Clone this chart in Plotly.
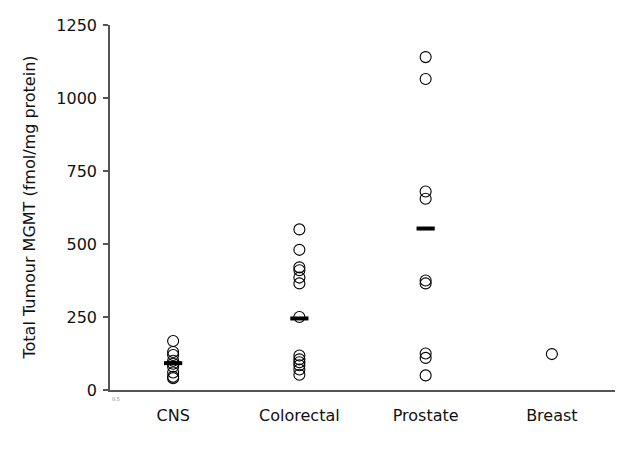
import plotly.graph_objects as go

categories = ["CNS", "Colorectal", "Prostate", "Breast"]
cns = [168, 130, 120, 100, 90, 80, 60, 45, 40]
colorectal = [550, 480, 420, 410, 385, 365, 250, 118, 105, 95, 85, 70, 52]
prostate = [1140, 1065, 680, 655, 375, 365, 125, 110, 50]
breast = [123]
bar_values = [92, 245, 553]
y_ticks = [0, 250, 500, 750, 1000, 1250]
y_title = "Total Tumour MGMT (fmol/mg protein)"

series = [cns, colorectal, prostate, breast]
xpos = [1, 2, 3, 4]

fig = go.Figure()
xs, ys = [], []
for x, vals in zip(xpos, series):
    xs += [x] * len(vals)
    ys += vals
fig.add_trace(go.Scatter(
    x=xs, y=ys, mode="markers",
    marker=dict(symbol="circle-open", size=11, color="black", line=dict(width=1.1, color="black")),
    showlegend=False, hoverinfo="y"))
fig.add_trace(go.Scatter(
    x=xpos[:3], y=bar_values, mode="markers",
    marker=dict(symbol="line-ew", size=13, color="black", line=dict(width=4, color="black")),
    showlegend=False, hoverinfo="y"))

font = "DejaVu Sans, Verdana, sans-serif"
L, R, T, B, W, H = 110, 15, 25, 59, 630, 449
fig.update_layout(
    width=W, height=H,
    margin=dict(l=L, r=R, t=T, b=B),
    plot_bgcolor="white", paper_bgcolor="white",
    font=dict(family=font, size=16, color="#111"),
    xaxis=dict(range=[0.5, 4.5], tickvals=xpos, ticktext=categories,
               showgrid=False, zeroline=False, showline=True, linecolor="#555", linewidth=1.5,
               ticks="", ticklabelstandoff=10, tickfont=dict(size=16, family=font)),
    yaxis=dict(range=[0, 1250], tickvals=y_ticks, showgrid=False, zeroline=False,
               showline=True, linecolor="#555", linewidth=1.5,
               ticks="outside", ticklen=5, tickcolor="#555", tickwidth=1.5,
               ticklabelstandoff=3, tickfont=dict(size=16, family=font)),
)
fig.add_annotation(x=(29 - L) / (W - L - R), y=0.5, xref="paper", yref="paper", text=y_title,
                   textangle=-90, showarrow=False, font=dict(size=16, family=font, color="#111"),
                   xanchor="center", yanchor="middle")
fig.add_annotation(x=0, y=0, xref="paper", yref="paper", text="0.5", showarrow=False,
                   font=dict(size=5, color="#888"), xanchor="left", yanchor="top", yshift=-4, xshift=0)
fig.write_html("out.html", config={"displayModeBar": False})

with open("out.html", "r", encoding="utf-8") as f:
    html = f.read()
html = html.replace("<head>", "<head><style>html,body{margin:0;padding:0;}</style>", 1)
with open("out.html", "w", encoding="utf-8") as f:
    f.write(html)
